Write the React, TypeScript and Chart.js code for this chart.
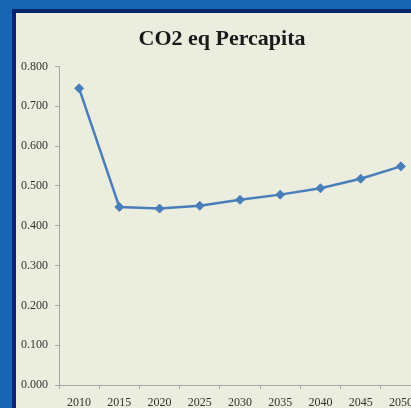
import React, { useEffect, useRef } from "react";
import { Chart, registerables } from "chart.js";

Chart.register(...registerables);

const categories = ["2010", "2015", "2020", "2025", "2030", "2035", "2040", "2045", "2050"];
const co2Values = [0.745, 0.447, 0.443, 0.45, 0.465, 0.478, 0.494, 0.518, 0.549];
const yMin = 0;
const yMax = 0.8;
const yStep = 0.1;
const titleText = "CO2 eq Percapita";

const titleShift = {
  id: "titleShift",
  afterLayout(chart: any) {
    const t = chart.titleBlock;
    if (t) {
      t.left += 7;
    }
  },
};

export default function App() {
  const ref = useRef<HTMLCanvasElement | null>(null);

  useEffect(() => {
    if (!ref.current) return;
    const axisColor = "#a8a8a8";
    const tickFont = { family: "'Liberation Serif', serif", size: 12, weight: "normal" as const };
    const chart = new Chart(ref.current, {
      type: "line",
      data: {
        labels: categories,
        datasets: [
          {
            data: co2Values,
            borderColor: "#4a7ebb",
            backgroundColor: "#4a7ebb",
            borderWidth: 2.5,
            pointStyle: "rectRot",
            pointRadius: 4.5,
            pointBorderWidth: 1,
            pointBackgroundColor: "#4a7ebb",
            pointBorderColor: "#4a7ebb",
            tension: 0,
            fill: false,
          },
        ],
      },
      plugins: [titleShift],
      options: {
        responsive: false,
        animation: false,
        layout: { padding: { top: 0, right: 13, bottom: 0, left: 0 } },
        plugins: {
          legend: { display: false },
          tooltip: { enabled: false },
          title: {
            display: true,
            text: titleText,
            color: "#1a1a1a",
            font: { family: "'Liberation Serif', serif", size: 22, weight: "bold" },
            padding: { top: 13, bottom: 14 },
          },
        },
        scales: {
          x: {
            type: "category",
            offset: true,
            grid: {
              display: true,
              offset: true,
              drawOnChartArea: false,
              drawTicks: true,
              tickLength: 4,
              color: axisColor,
            },
            border: { display: true, color: axisColor, width: 1 },
            ticks: { color: "#333333", font: tickFont, padding: 7, maxRotation: 0, autoSkip: false },
            afterFit: (s: any) => {
              s.height = 30;
            },
          },
          y: {
            min: yMin,
            max: yMax,
            grid: {
              display: true,
              drawOnChartArea: false,
              drawTicks: true,
              tickLength: 4,
              color: axisColor,
            },
            border: { display: true, color: axisColor, width: 1 },
            ticks: {
              stepSize: yStep,
              color: "#333333",
              font: tickFont,
              padding: 7,
              callback: (v: any) => Number(v).toFixed(3),
            },
            afterFit: (s: any) => {
              s.width = 43;
            },
          },
        },
      },
    });
    return () => chart.destroy();
  }, []);

  return (
    <div
      style={{
        position: "fixed",
        left: 0,
        top: 0,
        width: 411,
        height: 408,
        overflow: "hidden",
        background: "#1666b4",
      }}
    >
      <div
        style={{
          position: "absolute",
          left: 12,
          top: 9,
          width: 440,
          height: 420,
          background: "#ebeedf",
          borderLeft: "4px solid #0b2470",
          borderTop: "4px solid #0b2470",
        }}
      >
        <canvas ref={ref} width={418} height={402} style={{ display: "block" }} />
      </div>
    </div>
  );
}
